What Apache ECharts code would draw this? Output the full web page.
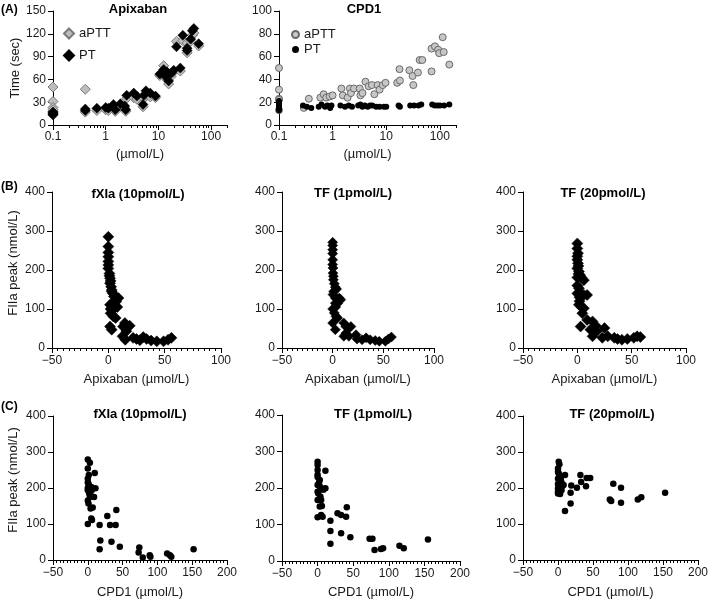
<!DOCTYPE html>
<html><head><meta charset="utf-8">
<script src="https://cdn.jsdelivr.net/npm/echarts@6/dist/echarts.min.js"></script>
<style>html,body{margin:0;padding:0;background:#fff}#c{width:709px;height:601px}</style>
</head><body><div id="c"></div>
<script>
// ---------- DATA ----------
// Panel A left: Apixaban, clotting times (sec) vs concentration (µmol/L), zero conc plotted at 0.1
const apxConc = [0.1,0.1,0.1,0.1,0.1, 0.41,0.41,0.68,1.0,1.12,1.4,1.52,1.9,2.3,2.4,2.5, 3.4,3.9,5.1,5.3,5.8,7.0,8.8, 10.6,12.6,13.5,14.5,15.6,17.5,19.5, 22,26,29,35,35,41,44,47,58];
const apxPT   = [15,17,14,16,13, 21,19,22,23,22,27,20,28,25,20,39, 42,38,27,39,45,42,38, 67,73,64,70,58,68,72, 103,75,118,101,98,113,124,127,107];
const apxAPTT = [50,31,23,18,20, 47,17,19,20,19,24,18,25,22,18,35, 36,34,24,35,40,37,36, 65,78,62,66,54,64,70, 110,71,111,108,95,110,118,121,104];
// Panel A right: CPD1
const cpdAPTTConc = [0.1,0.1,0.1,0.1,0.1, 0.29,0.36, 0.59,0.68,0.76,0.88,1.0, 1.46,1.55,1.9,2.1,2.2,2.5, 3.2,3.3,3.6,4.1,4.7,5.4,6.0,6.9,7.5,8.6,9.7, 16,17.7,18, 27,31,32,39,42,47, 70,70,81,93,97,113,118,150];
const cpdAPTT     = [50,31,23,22,13, 15,23, 24,27,24,25,26, 32,26,24,32,28,32, 32,26,28,38,34,35,27,35,31,35,37, 37,49,39, 48,43,35,46,57,57, 47,67,69,66,63,77,64,53];
const cpdPTConc = [0.1,0.1,0.1,0.1,0.1,0.1, 0.28,0.33,0.4,0.55,0.62,0.72,0.8,0.9,0.95, 1.4,1.7,2.0,2.3, 3.0,3.3,3.6,4.0,4.5,5.0,5.5,6.5,7.5,9,10, 17,18, 28,33,40,45, 72,80,90,100,120,150];
const cpdPT     = [13,15,16,17,19,21, 17,16,15,16,18,16,17,15,17, 17,16,17,16, 17,18,16,17,16,17,17,16,16,16,16, 17,16, 17,17,17,18, 18,17,17,17,17,18];
// Panel B: FIIa peak (nmol/L) vs Apixaban (µmol/L)
const b1X = [0,0,0,0,0,1,1.5,1.5,2.5,3, 4,5,9,7,4.4,1.5,4,2,4.4,6.5, 1.5,3, 14.7,13,17.6,19,16,12.6,15, 22,25,28,31,34,38,43,49,53,56, 0,0,1,2,3,5,2,8];
const b1Y = [285,260,234,213,204,191,179,166,157,149, 140,132,128,119,111,111,98,89,81,77, 55,47, 64,55,55,57,43,30,21, 26,23,20,28,23,19,17,17,21,26, 245,222,185,172,145,120,100,105];
const b2X = [0,0,0,0,0,0.3,0.3,0.7,0.7,1.6, 2.6,3.9,0.3,2.6,6.5,8,2.6,4.9,1.6,3.3, 4.9,0,2.6, 11,13,16,18,13,11,16, 23,24,29,33,37,42,46,52,55,58, 0,1,0,3];
const b2Y = [271,263,242,226,214,205,192,184,175,165, 156,151,137,128,128,124,115,114,90,81, 77,64,47, 64,55,51,55,38,30,30, 34,23,21,26,21,19,17,17,23,28, 252,145,100,105];
const b3X = [0,0,0.6,0,0.6,0,1.5,2.5,0,3.7, 6,1.5,0,3,6,9,1.5,3.7,6,4.6, 3, 9,14,17,12,18,25,14,23,28,34,37,41,46,52,55,58, 0,1,1,2,2,0];
const b3Y = [268,255,243,226,217,204,196,187,181,181, 174,153,140,140,136,136,111,106,102,89, 55, 72,68,57,47,43,51,30,26,30,26,23,21,23,26,30,28, 235,210,190,130,120,160];
// Panel C: FIIa peak (nmol/L) vs CPD1 (µmol/L)
const c1X = [0,3,0,1.4,0,10,1,5,11,0, 4,3,9,1,4,7,0,5,6,17, 28,32,40,41,18,17,34,46,73,74, 79,89,90,114,118,120,152, 0,0,2,2,0,6];
const c1Y = [279,270,254,236,226,242,212,203,199,194, 189,175,175,157,143,146,100,115,111,97, 122,97,97,139,54,30,51,37,21,35, 7,13,9,18,13,9,30, 215,200,205,185,165,195];
const c2X = [0,0,0,11,0,3,0,5,11,0, 4,0,5,3,6,0,5,7,18,28, 33,40,41,18,33,18,46,73,77,80, 89,92,115,121,155, 0,2,1,8,3];
const c2Y = [272,263,249,247,236,222,208,199,199,190, 176,167,167,149,151,120,126,121,110,131, 126,121,147,82,76,47,65,61,61,30, 33,35,42,35,59, 230,215,185,195,205];
const c3X = [1,2,0,0,2,10,0,3,0,8, 0,5,0,3,10,18,18,19,27,32, 33,40,41,46,74,76,79,90,90,114, 119,153, 1,2,5,6,0,4];
const c3Y = [273,266,254,245,236,236,226,220,211,208, 199,194,185,183,136,157,187,207,201,236, 217,205,228,228,168,164,212,201,159,168, 174,187, 240,230,215,205,190,225];
// Tick values for log axes
const logMajorTicks = [0.1, 1, 10, 100];
const logMinorTicks = [0.2,0.3,0.4,0.5,0.6,0.7,0.8,0.9,2,3,4,5,6,7,8,9,20,30,40,50,60,70,80,90,200];
const panelTitles = ['Apixaban','CPD1','fXIa (10pmol/L)','TF (1pmol/L)','TF (20pmol/L)','fXIa (10pmol/L)','TF (1pmol/L)','TF (20pmol/L)'];

// ---------- CHART ----------
const FONT = "'Liberation Sans', Arial, Helvetica, sans-serif";
const zip = (xs, ys) => xs.map((x, i) => [x, ys[i]]);
const minusFmt = v => String(v).replace('-', '\u2212');

const grids = [
  {left: 53, top: 11, width: 174, height: 114},
  {left: 279, top: 11, width: 177, height: 114},
  {left: 52, top: 192, width: 169, height: 156},
  {left: 282, top: 192, width: 152, height: 156},
  {left: 523, top: 192, width: 163, height: 156},
  {left: 53, top: 416, width: 174, height: 144},
  {left: 282, top: 415, width: 178, height: 146},
  {left: 523, top: 416, width: 175, height: 144}
].map(g => Object.assign({containLabel: false, outerBoundsMode: 'none'}, g));

const axLine = {show: true, onZero: false, lineStyle: {color: '#000', width: 1}};
const lbl = {color: '#1a1a1a', fontSize: 12, fontFamily: FONT};
const nameStyle = {color: '#1a1a1a', fontSize: 13, fontFamily: FONT};

function logX(g) {
  return {type: 'log', gridIndex: g, position: 'bottom', min: 0.1, max: 200, logBase: 10,
    axisLine: axLine, splitLine: {show: false},
    axisTick: {show: true, length: 5, customValues: logMajorTicks, lineStyle: {color: '#000'}},
    axisLabel: Object.assign({margin: 6, customValues: logMajorTicks, formatter: v => String(v)}, lbl),
    minorTick: {show: false},
    name: '(\u00b5mol/L)', nameLocation: 'middle', nameGap: 23, nameTextStyle: nameStyle};
}
function logXMinor(g) {
  return {type: 'log', gridIndex: g, position: 'bottom', min: 0.1, max: 200, logBase: 10,
    axisLine: {show: false, onZero: false}, splitLine: {show: false},
    axisTick: {show: true, length: 3, customValues: logMinorTicks, lineStyle: {color: '#000'}},
    axisLabel: {show: false}, minorTick: {show: false}};
}
function linX(g, max, name, gap) {
  return {type: 'value', gridIndex: g, min: -50, max: max, interval: 50,
    axisLine: axLine, splitLine: {show: false},
    axisTick: {show: true, length: 5, lineStyle: {color: '#000'}},
    minorTick: {show: true, splitNumber: 10, length: 3, lineStyle: {color: '#000'}},
    axisLabel: Object.assign({margin: 7, formatter: minusFmt}, lbl),
    name: name, nameLocation: 'middle', nameGap: gap, nameTextStyle: nameStyle};
}
function linY(g, max, interval) {
  return {type: 'value', gridIndex: g, min: 0, max: max, interval: interval,
    axisLine: axLine, splitLine: {show: false},
    axisTick: {show: true, length: 5, lineStyle: {color: '#000'}},
    axisLabel: Object.assign({margin: 7}, lbl)};
}

const xAxes = [
  logX(0), logX(1),
  linX(2, 100, 'Apixaban (\u00b5mol/L)', 25), linX(3, 100, 'Apixaban (\u00b5mol/L)', 25), linX(4, 100, 'Apixaban (\u00b5mol/L)', 25),
  linX(5, 200, 'CPD1 (\u00b5mol/L)', 26), linX(6, 200, 'CPD1 (\u00b5mol/L)', 25), linX(7, 200, 'CPD1 (\u00b5mol/L)', 26),
  logXMinor(0), logXMinor(1)
];
const yAxes = [linY(0, 150, 30), linY(1, 100, 20), linY(2, 400, 100), linY(3, 400, 100), linY(4, 400, 100),
  linY(5, 400, 100), linY(6, 400, 100), linY(7, 400, 100)];

const blackDia = {color: '#000', borderColor: '#000', borderWidth: 0.5, opacity: 1};
const greyDia = {color: '#bdbdbd', borderColor: '#7a7a7a', borderWidth: 1, opacity: 1};
const blackDot = {color: '#000', opacity: 1};
const greyDot = {color: '#c6c6c6', borderColor: '#6a6a6a', borderWidth: 1, opacity: 1};

function sc(name, g, data, symbol, size, style) {
  return {type: 'scatter', name: name, xAxisIndex: g, yAxisIndex: g, data: data,
    symbol: symbol, symbolSize: size, itemStyle: style, emphasis: {disabled: true}, silent: true};
}
const series = [
  sc('A_aPTT', 0, zip(apxConc, apxAPTT), 'diamond', 10, greyDia),
  sc('A_PT', 0, zip(apxConc, apxPT), 'diamond', 10, blackDia),
  sc('C_aPTT', 1, zip(cpdAPTTConc, cpdAPTT), 'circle', 7, greyDot),
  sc('C_PT', 1, zip(cpdPTConc, cpdPT), 'circle', 6, blackDot),
  sc('b1', 2, zip(b1X, b1Y), 'diamond', 11, blackDia),
  sc('b2', 3, zip(b2X, b2Y), 'diamond', 10, blackDia),
  sc('b3', 4, zip(b3X, b3Y), 'diamond', 11, blackDia),
  sc('c1', 5, zip(c1X, c1Y), 'circle', 6.5, blackDot),
  sc('c2', 6, zip(c2X, c2Y), 'circle', 6.5, blackDot),
  sc('c3', 7, zip(c3X, c3Y), 'circle', 6.5, blackDot)
];

const titleCenters = [[138, 3], [364, 3], [138, 188], [353, 187], [603, 187], [140, 408], [373, 408], [612, 408]];
const titles = panelTitles.map((t, i) => ({text: t, left: titleCenters[i][0], top: titleCenters[i][1], textAlign: 'center', padding: 0,
  textStyle: {fontSize: 13, fontWeight: 'bold', color: '#000', fontFamily: FONT}}));

const legendText = {fontSize: 13, color: '#1a1a1a', fontFamily: FONT};
const legends = [
  {left: 63, top: 27, orient: 'vertical', padding: 0, itemWidth: 10, itemHeight: 10, itemGap: 9,
    data: ['A_aPTT', 'A_PT'], formatter: n => n.split('_')[1], textStyle: legendText, selectedMode: false},
  {left: 291, top: 28, orient: 'vertical', padding: 0, itemWidth: 7, itemHeight: 7, itemGap: 2,
    data: ['C_aPTT', 'C_PT'], formatter: n => n.split('_')[1], textStyle: legendText, selectedMode: false}
];

function vText(txt, x, y) {
  return {type: 'text', x: x, y: y, rotation: Math.PI / 2,
    style: {text: txt, align: 'center', verticalAlign: 'middle', fontSize: 13, fill: '#1a1a1a', fontFamily: FONT}};
}
function pLabel(txt, x, y) {
  return {type: 'text', x: x, y: y,
    style: {text: txt, align: 'left', verticalAlign: 'middle', fontSize: 12, fontWeight: 'bold', fill: '#000', fontFamily: FONT}};
}
const graphics = [
  pLabel('(A)', 1, 10), pLabel('(B)', 1, 187), pLabel('(C)', 1, 407),
  vText('Time (sec)', 15, 68), vText('FIIa peak (nmol/L)', 13, 263), vText('FIIa peak (nmol/L)', 13, 480)
];

const chart = echarts.init(document.getElementById('c'), null, {renderer: 'canvas'});
chart.setOption({
  animation: false,
  backgroundColor: '#fff',
  textStyle: {fontFamily: FONT},
  title: titles,
  legend: legends,
  grid: grids,
  xAxis: xAxes,
  yAxis: yAxes,
  series: series,
  graphic: graphics
});
</script>
</body></html>
